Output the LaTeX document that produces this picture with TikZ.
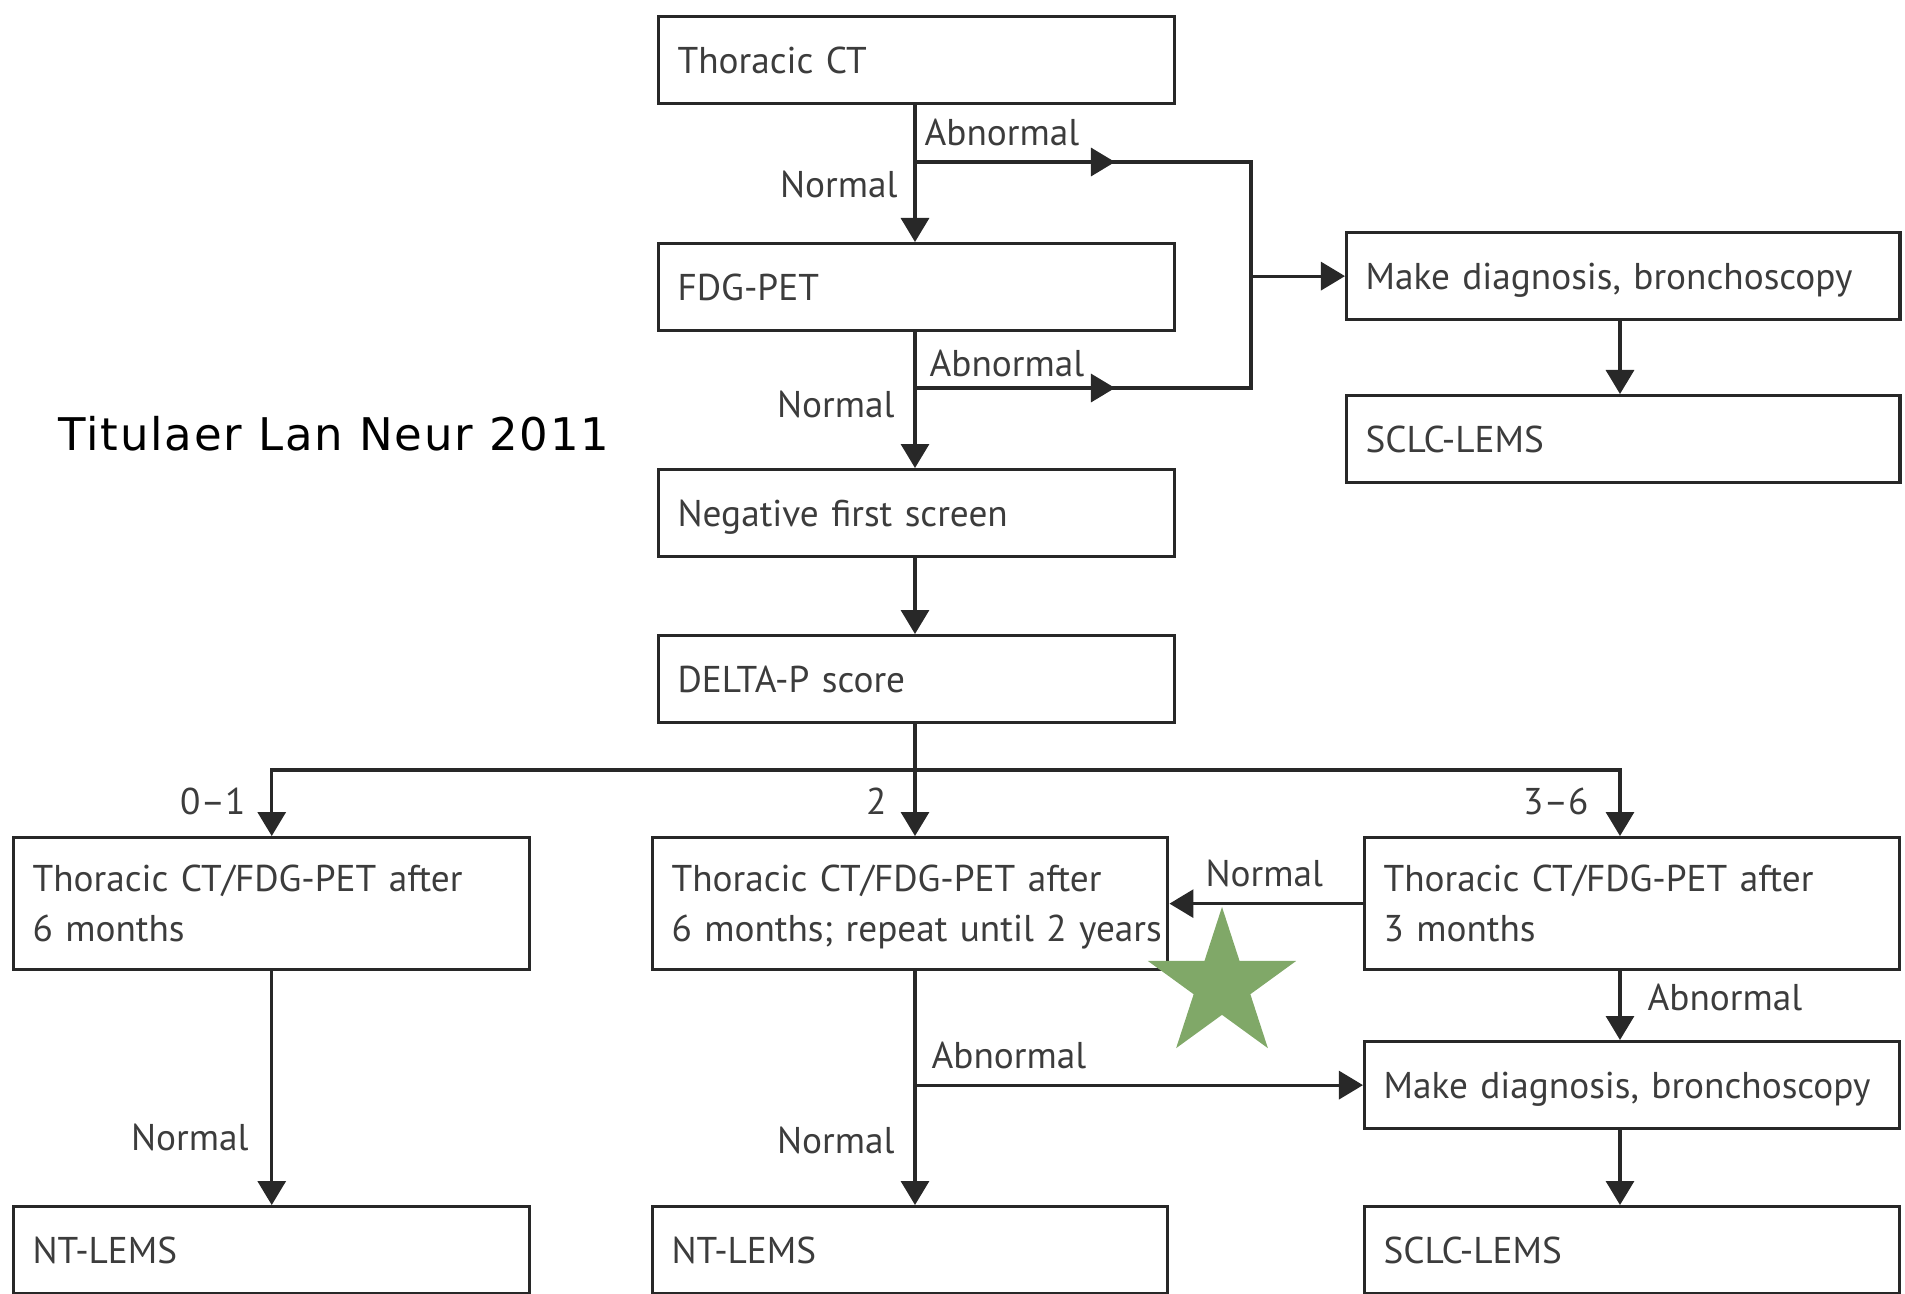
\documentclass[tikz,border=0pt]{standalone}
\usepackage{fontspec}
\setmainfont{PT Sans}
\newfontfamily\handfont{DejaVu Sans}[LetterSpace=4]
\usetikzlibrary{arrows.meta,shapes.geometric}
\definecolor{linec}{RGB}{40,40,40}
\definecolor{txtc}{RGB}{60,60,60}
\definecolor{stargreen}{RGB}{128,168,104}
\newcommand{\boxfont}{\fontsize{10.6}{14.2}\selectfont\spaceskip=0.2em plus 0.05em\relax}
\tikzset{
  box/.style={draw=linec, fill=white, text=txtc, anchor=north west,
    inner xsep=1.9mm, inner ysep=0pt, align=left, text width=#1,
    minimum height=8.7mm, text height=2.6mm, text depth=0mm},
  box/.default=47.8mm,
  twobox/.style={box=#1, minimum height=13.2mm, text depth=5mm},
  twobox/.default=47.8mm,
  lbl/.style={text=txtc, inner sep=0pt, anchor=base west},
  lblr/.style={lbl, anchor=base east},
}
\begin{document}
\begin{tikzpicture}[x=0.01cm, y=-0.01cm, line width=0.9pt, draw=linec,
  >={Triangle[length=2.4mm,width=2.8mm]}, font=\boxfont]
\useasboundingbox (0,0) rectangle (1905,1293);
% first screen
\node[box] (thct) at (657,15) {Thoracic CT};
\node[box] (fdg) at (657,242) {FDG-PET};
\node[box] (neg) at (657,468) {Negative first screen};
\node[box] (delta) at (657,634) {DELTA-P score};
\node[box=51.5mm] (diag1) at (1345,231) {Make diagnosis, bronchoscopy};
\node[box=51.5mm] (sclc1) at (1345,394) {SCLC-LEMS};
% follow up
\node[twobox] (fu1) at (12,836) {Thoracic CT/FDG-PET after\\6 months};
\node[twobox=47.7mm] (fu2) at (651,836) {Thoracic CT/FDG-PET after\\\hbox{6 months; repeat until 2 years}};
\node[twobox=49.7mm] (fu3) at (1363,836) {Thoracic CT/FDG-PET after\\3 months};
\node[box=49.7mm] (diag2) at (1363,1040) {Make diagnosis, bronchoscopy};
\node[box] (nt1) at (12,1205) {NT-LEMS};
\node[box=47.7mm] (nt2) at (651,1205) {NT-LEMS};
\node[box=49.7mm] (sclc2) at (1363,1205) {SCLC-LEMS};

\path
  (915,162) coordinate (ab1)
  (915,388) coordinate (ab2)
  (diag1.west -| 1251,0) coordinate (jn)
  (915,770) coordinate (br)
  (1620,770) coordinate (br3)
  ;
% top
\draw[->] (thct.south -| br) -- (fdg.north -| br);
\draw[->] (fdg.south -| br) -- (neg.north -| br);
\draw[->] (neg.south -| br) -- (delta.north -| br);
\draw (ab1) -- (ab1 -| jn) -- (ab2 -| jn) -- (ab2);
\draw[->] (ab1) -- ++(200,0);
\draw[->] (ab2) -- ++(200,0);
\draw[->] (jn) -- (diag1.west);
\draw[->] (diag1.south -| br3) -- (sclc1.north -| br3);
% DELTA-P branches
\draw (delta.south -| br) -- (br);
\draw[->] (br) -| (fu1.north);
\draw[->] (br) -- (fu2.north -| br);
\draw[->] (br) -- (br3) -- (fu3.north -| br3);
\draw[->] (fu3.west) -- (fu3.west -| fu2.east);
\draw[->] (fu3.south -| br3) -- (diag2.north -| br3);
\draw[->] (diag2.south -| br3) -- (sclc2.north -| br3);
\draw[->] (fu2.south -| br) -- (nt2.north -| br);
\draw[->] (diag2.west -| br) -- (diag2.west);
\draw[->] (fu1.south) -- (nt1.north);
% labels
\node[lbl] (l1) at (923,145) {Abnormal};
\node[lblr] (l2) at (899,197) {Normal};
\node[lbl] (l3) at (928,376) {Abnormal};
\node[lblr] (l4) at (896,417) {Normal};
\node[lblr] (l5) at (247,814) {0--1};
\node[lblr] (l6) at (888,814) {2};
\node[lblr] (l7) at (1590,814) {3--6};
\node[lbl] (l8) at (1204,886) {Normal};
\node[lbl] (l9) at (1646,1010) {Abnormal};
\node[lbl] (l10) at (930,1068) {Abnormal};
\node[lblr] (l11) at (896,1153) {Normal};
\node[lblr] (l12) at (250,1150) {Normal};
\node[lbl, text=black, font=\handfont\fontsize{12.8}{15}\selectfont] (ttl) at (57,450) {Titulaer Lan Neur 2011};
% star
\node[star, star points=5, star point ratio=2.618, minimum size=1.56cm,
  inner sep=0pt, fill=stargreen] (st) at (1222,985) {};
\end{tikzpicture}
\end{document}
